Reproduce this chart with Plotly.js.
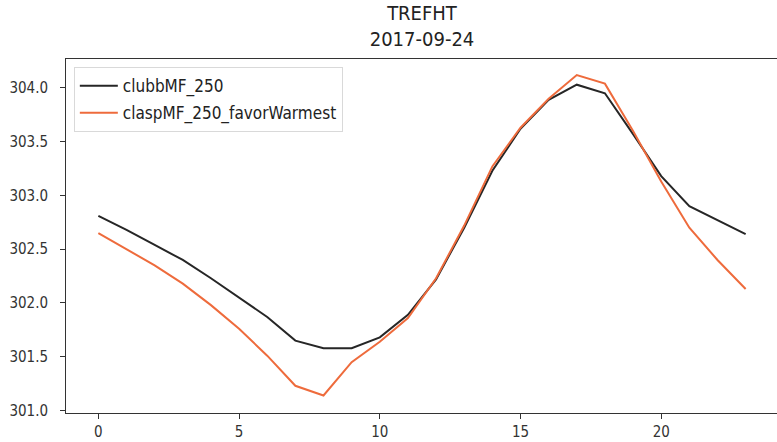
<!DOCTYPE html>
<html>
<head>
<meta charset="utf-8">
<script src="https://cdn.plot.ly/plotly-3.0.1.min.js"></script>
<style>
  html, body { margin: 0; padding: 0; overflow: hidden; background: #fff; }
  #chart { width: 780px; height: 442px; }
</style>
</head>
<body>
<div id="chart"></div>
<script>
// Hourly 2 m reference-height temperature (K) for two model configurations
const hours = [0, 1, 2, 3, 4, 5, 6, 7, 8, 9, 10, 11, 12, 13, 14, 15, 16, 17, 18, 19, 20, 21, 22, 23];
const clubbMF250 = [302.81, 302.68, 302.54, 302.40, 302.23, 302.05, 301.87, 301.65, 301.58, 301.58,
                    301.68, 301.89, 302.22, 302.70, 303.23, 303.62, 303.89, 304.03, 303.95, 303.57,
                    303.18, 302.90, 302.77, 302.64];
const claspMF250Warm = [302.65, 302.50, 302.35, 302.18, 301.98, 301.76, 301.51, 301.23, 301.14, 301.45,
                        301.64, 301.86, 302.23, 302.72, 303.27, 303.63, 303.90, 304.12, 304.04, 303.60,
                        303.13, 302.70, 302.40, 302.13];
const seriesNames = ['clubbMF_250', 'claspMF_250_favorWarmest'];
const xTicks = [0, 5, 10, 15, 20];
const yTicks = [301.0, 301.5, 302.0, 302.5, 303.0, 303.5, 304.0];
const titleLines = ['TREFHT', '2017-09-24'];

const FONT = 'DejaVu Sans Condensed, DejaVu Sans, sans-serif';

const traces = [
  {
    x: hours, y: clubbMF250, name: seriesNames[0], legendgroup: 'a', type: 'scatter', mode: 'lines',
    line: { color: '#262626', width: 2 }
  },
  {
    x: hours, y: claspMF250Warm, name: seriesNames[1], legendgroup: 'b', type: 'scatter', mode: 'lines',
    line: { color: '#ee6b3c', width: 2 }
  }
];

const axisCommon = {
  showgrid: false, zeroline: false,
  showline: true, mirror: true, linecolor: '#333', linewidth: 1,
  ticks: 'outside', ticklen: 5, tickwidth: 1, tickcolor: '#333',
  tickfont: { family: FONT, size: 15, color: '#333' }
};

const layout = {
  width: 780, height: 442,
  margin: { l: 66, r: 2, t: 59, b: 29 },
  paper_bgcolor: '#fff', plot_bgcolor: '#fff',
  title: {
    text: titleLines.join('<br>'),
    font: { family: FONT, size: 20, color: '#222' },
    x: 0.5, xref: 'paper', xanchor: 'center',
    y: 0.955, yref: 'container', yanchor: 'bottom'
  },
  xaxis: Object.assign({}, axisCommon, {
    range: [-1.15, 24.15], tickvals: xTicks, ticktext: xTicks.map(String)
  }),
  yaxis: Object.assign({}, axisCommon, {
    range: [300.977, 304.269], tickvals: yTicks, ticktext: yTicks.map(v => v.toFixed(1)),
    ticklabelstandoff: 9
  }),
  showlegend: true,
  legend: {
    x: 0.011, y: 0.977, xanchor: 'left', yanchor: 'top',
    traceorder: 'grouped', tracegroupgap: 2, itemwidth: 38,
    bgcolor: 'rgba(255,255,255,0.8)', bordercolor: '#d9d9d9', borderwidth: 1,
    font: { family: FONT, size: 17, color: '#222' }
  }
};

Plotly.newPlot('chart', traces, layout, { staticPlot: true, displayModeBar: false });
</script>
</body>
</html>
